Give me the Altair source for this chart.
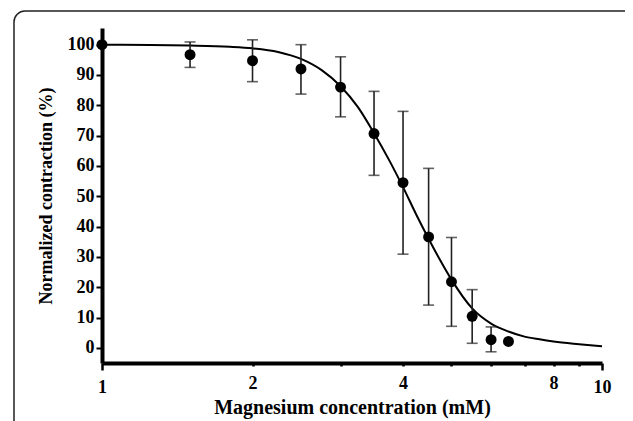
import altair as alt
import pandas as pd

# Measured points
conc = [1.0, 1.5, 2.0, 2.5, 3.0, 3.5, 4.0, 4.5, 5.0, 5.5, 6.0, 6.5]
mean = [100.0, 96.7, 94.7, 92.0, 86.0, 70.7, 54.5, 36.6, 21.8, 10.4, 2.7, 2.1]
err_lo = [100.0, 92.5, 87.8, 83.7, 76.2, 56.9, 30.9, 14.1, 7.1, 1.5, -1.3, 2.1]
err_hi = [100.0, 100.9, 101.6, 100.0, 96.0, 84.6, 78.0, 59.2, 36.4, 19.2, 6.9, 2.1]
has_err = [False, True, True, True, True, True, True, True, True, True, True, False]

# Fitted curve
curve_x = [1.0, 1.25, 1.5, 1.8, 2.0, 2.25, 2.5, 2.75, 3.0, 3.25, 3.5, 3.75, 4.0,
           4.25, 4.5, 4.75, 5.0, 5.5, 6.0, 6.5, 7.0, 7.5, 8.0, 9.0, 10.0]
curve_y = [100.0, 99.9, 99.7, 99.3, 98.8, 97.6, 95.3, 91.6, 86.3, 79.4, 70.8, 62.0, 53.0,
           44.0, 36.0, 28.8, 22.5, 13.0, 8.0, 5.4, 3.7, 2.8, 2.1, 1.2, 0.5]

x_ticks = [1, 2, 3, 4, 5, 6, 7, 8, 9, 10]
x_labeled = [1, 2, 4, 8, 10]
y_ticks = [0, 10, 20, 30, 40, 50, 60, 70, 80, 90, 100]

pts = pd.DataFrame({"conc": conc, "mean": mean, "lo": err_lo, "hi": err_hi, "err": has_err})
errs = pts[pts["err"]]
curve = pd.DataFrame({"conc": curve_x, "y": curve_y})

FONT = "Liberation Serif"
labeled_expr = "indexof([" + ",".join(str(v) for v in x_labeled) + "], datum.value) >= 0 ? datum.label : ''"

xscale = alt.Scale(type="log", domain=[1, 10], nice=False)
yscale = alt.Scale(domain=[-5, 105.5], nice=False, zero=False)

xaxis = alt.Axis(title="Magnesium concentration (mM)", values=x_ticks, labelExpr=labeled_expr,
                 domain=True, domainColor="black", domainWidth=4, zindex=1)
yaxis = alt.Axis(title="Normalized contraction (%)", values=y_ticks,
                 domain=True, domainColor="black", domainWidth=4, zindex=1)

X = alt.X("conc:Q", scale=xscale, axis=xaxis)

line = alt.Chart(curve).mark_line(color="black", strokeWidth=2, interpolate="monotone", clip=False).encode(
    x=X,
    y=alt.Y("y:Q", scale=yscale, axis=yaxis),
)
rules = alt.Chart(errs).mark_rule(color="#222", strokeWidth=1.6).encode(
    x=X,
    y=alt.Y("lo:Q", scale=yscale, axis=yaxis),
    y2="hi:Q",
)
cap_lo = alt.Chart(errs).mark_tick(color="#222", orient="horizontal", size=11, thickness=1.6).encode(
    x=X,
    y=alt.Y("lo:Q", scale=yscale, axis=yaxis),
)
cap_hi = alt.Chart(errs).mark_tick(color="#222", orient="horizontal", size=11, thickness=1.6).encode(
    x=X,
    y=alt.Y("hi:Q", scale=yscale, axis=yaxis),
)
dots = alt.Chart(pts).mark_circle(color="black", opacity=1, size=120, clip=False).encode(
    x=X,
    y=alt.Y("mean:Q", scale=yscale, axis=yaxis),
)

frame = alt.Chart(pd.DataFrame({"k": [0]})).mark_rect(
    fill="transparent", stroke="#222", strokeWidth=1.5, cornerRadius=11, clip=False
).encode(
    x=alt.value(-88), x2=alt.value(540), y=alt.value(-17), y2=alt.value(420)
)

chart = alt.layer(frame, line, rules, cap_lo, cap_hi, dots).properties(
    width=500,
    height=335,
    background="white",
    autosize=alt.AutoSizeParams(type="none"),
    padding={"left": 94, "top": 20, "right": 23, "bottom": 58},
).configure_view(
    stroke=None
).configure_axis(
    grid=False,
    domain=True,
    domainColor="black",
    domainWidth=4,
    tickColor="black",
    labelFont=FONT, labelFontSize=18, labelFontWeight="bold", labelColor="black",
    titleFont=FONT, titleFontWeight="bold", titleColor="black",
    labelOverlap=False,
    labelFlush=False,
).configure_axisX(
    tickWidth=2.5,
    tickSize={"condition": {"test": "datum.value == 1 || datum.value == 10", "value": 7}, "value": 3},
    labelPadding=8,
    titleFontSize=20,
    titlePadding=1,
).configure_axisY(
    tickWidth=2,
    tickSize=6,
    labelPadding=2,
    titleFontSize=18,
    titlePadding=12,
)

chart.save("out.html", embed_options={"renderer": "svg", "actions": False})
